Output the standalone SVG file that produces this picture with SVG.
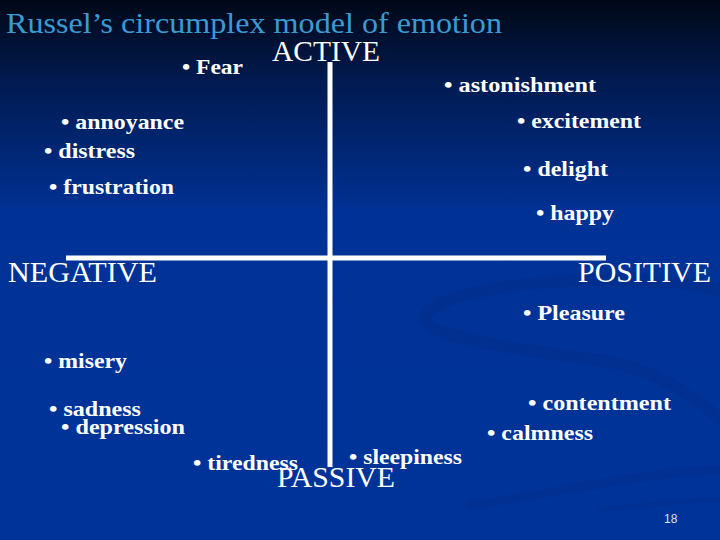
<svg xmlns="http://www.w3.org/2000/svg" width="720" height="540" viewBox="0 0 720 540">
<defs>
<linearGradient id="bg" x1="0" y1="0" x2="0" y2="1">
<stop offset="0" stop-color="#000816"/>
<stop offset="0.15" stop-color="#011a50"/>
<stop offset="0.4" stop-color="#003296"/>
<stop offset="1" stop-color="#003399"/>
</linearGradient>
<style>
.t{font-family:"Liberation Serif","Times New Roman",serif;fill:#ffffff}
.b{font-weight:bold;font-size:21px}
.ax{font-size:29px}
.title{font-family:"Liberation Serif","Times New Roman",serif;font-size:29px;fill:#3a9ad4}
.axis{stroke:#ffffff;stroke-width:5;fill:none}
.swirl{fill:none;stroke:#002a80;stroke-opacity:0.3;stroke-linecap:round}
</style>
</defs>
<rect width="720" height="540" fill="url(#bg)"/>
<g id="decor">
<path class="swirl" stroke-width="12" d="M720,290 C640,270 470,280 430,310 C400,335 520,350 600,360 C660,370 700,400 720,420"/>
<path class="swirl" stroke-width="9" d="M720,470 C650,470 520,500 470,505"/>
<path class="swirl" stroke-width="5" d="M720,500 C690,500 640,505 600,510"/>
</g>
<text class="title" x="6" y="33" textLength="496" lengthAdjust="spacingAndGlyphs">Russel’s circumplex model of emotion</text>
<g id="connectors">
<line class="axis" x1="330" y1="62" x2="330" y2="467"/>
<line class="axis" x1="66" y1="258" x2="606" y2="258"/>
</g>
<g id="active"><text class="t ax" x="272" y="61" textLength="108" lengthAdjust="spacingAndGlyphs">ACTIVE</text></g>
<g id="passive"><text class="t ax" x="277" y="487" textLength="118" lengthAdjust="spacingAndGlyphs">PASSIVE</text></g>
<g id="negative"><text class="t ax" x="8" y="282" textLength="149" lengthAdjust="spacingAndGlyphs">NEGATIVE</text></g>
<g id="positive"><text class="t ax" x="578" y="282" textLength="133" lengthAdjust="spacingAndGlyphs">POSITIVE</text></g>
<g id="fear"><text class="t b" x="182" y="74" textLength="61" lengthAdjust="spacingAndGlyphs">• Fear</text></g>
<g id="astonishment"><text class="t b" x="444" y="92" textLength="152" lengthAdjust="spacingAndGlyphs">• astonishment</text></g>
<g id="annoyance"><text class="t b" x="61" y="129" textLength="123" lengthAdjust="spacingAndGlyphs">• annoyance</text></g>
<g id="excitement"><text class="t b" x="517" y="128" textLength="124" lengthAdjust="spacingAndGlyphs">• excitement</text></g>
<g id="distress"><text class="t b" x="44" y="158" textLength="91" lengthAdjust="spacingAndGlyphs">• distress</text></g>
<g id="delight"><text class="t b" x="523" y="176" textLength="85" lengthAdjust="spacingAndGlyphs">• delight</text></g>
<g id="frustration"><text class="t b" x="49" y="194" textLength="125" lengthAdjust="spacingAndGlyphs">• frustration</text></g>
<g id="happy"><text class="t b" x="536" y="220" textLength="78" lengthAdjust="spacingAndGlyphs">• happy</text></g>
<g id="pleasure"><text class="t b" x="523" y="320" textLength="102" lengthAdjust="spacingAndGlyphs">• Pleasure</text></g>
<g id="misery"><text class="t b" x="44" y="368" textLength="83" lengthAdjust="spacingAndGlyphs">• misery</text></g>
<g id="contentment"><text class="t b" x="528" y="410" textLength="143" lengthAdjust="spacingAndGlyphs">• contentment</text></g>
<g id="sadness"><text class="t b" x="49" y="416" textLength="92" lengthAdjust="spacingAndGlyphs">• sadness</text></g>
<g id="depression"><text class="t b" x="61" y="434" textLength="124" lengthAdjust="spacingAndGlyphs">• depression</text></g>
<g id="calmness"><text class="t b" x="487" y="440" textLength="106" lengthAdjust="spacingAndGlyphs">• calmness</text></g>
<g id="tiredness"><text class="t b" x="193" y="470" textLength="105" lengthAdjust="spacingAndGlyphs">• tiredness</text></g>
<g id="sleepiness"><text class="t b" x="349" y="464" textLength="113" lengthAdjust="spacingAndGlyphs">• sleepiness</text></g>
<text x="664" y="523" font-family="Liberation Sans, Arial, sans-serif" font-size="12" fill="#d8e0f0">18</text>
</svg>
